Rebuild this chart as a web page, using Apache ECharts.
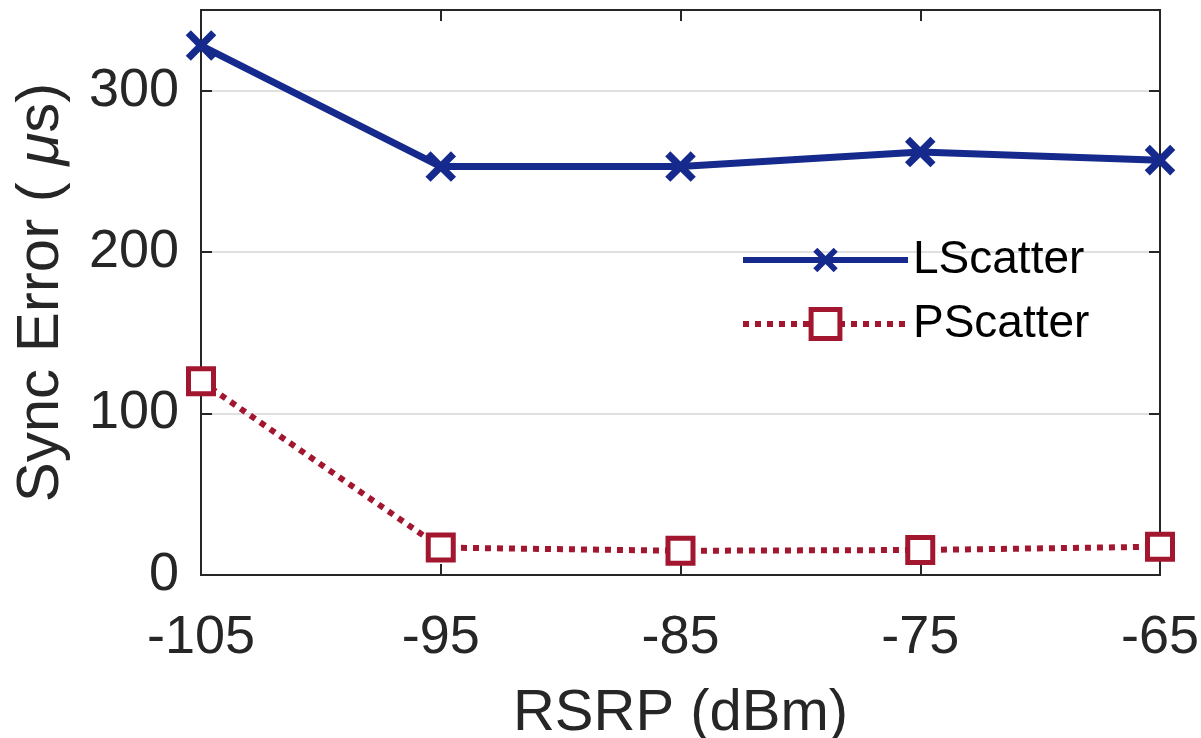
<!DOCTYPE html>
<html>
<head>
<meta charset="utf-8">
<script src="https://cdn.jsdelivr.net/npm/echarts@6/dist/echarts.min.js"></script>
<style>
  html, body { margin: 0; padding: 0; background: #fff; }
  #chart { width: 1201px; height: 738px; }
</style>
</head>
<body>
<div id="chart"></div>
<script>
// RSRP values (dBm) on the x axis
const rsrp = ['-105', '-95', '-85', '-75', '-65'];
// sync error in microseconds
const lscatter = [328, 253, 253, 262, 257];
const pscatter = [120, 17, 15, 15.5, 17.5];

const FONT = '"Liberation Sans", Arial, Helvetica, sans-serif';
const AXIS_COLOR = '#262626';
const BLUE = '#152a8c';
const RED = '#a3162f';
// X marker: a plus sign turned by 45 degrees
const CROSS = 'path://M4,0 H6 V4 H10 V6 H6 V10 H4 V6 H0 V4 H4 Z';

const myChart = echarts.init(document.getElementById('chart'));

// ticks point into the plot box, MATLAB style
function innerTick() {
  return { show: true, inside: true, length: 11, lineStyle: { color: AXIS_COLOR, width: 2 } };
}

const option = {
  animation: false,
  backgroundColor: '#fff',
  grid: {
    left: 201,
    right: 41,
    top: 10,
    bottom: 163,
    outerBoundsMode: 'none',
    containLabel: false,
    show: true,
    borderColor: AXIS_COLOR,
    borderWidth: 2,
    backgroundColor: 'transparent',
  },
  legend: {
    orient: 'vertical',
    left: 735,
    top: 232,
    itemWidth: 165,
    itemHeight: 36,
    itemGap: 18,
    textStyle: { fontFamily: FONT, fontSize: 46, color: '#000' },
    lineStyle: { width: 6 },
    itemStyle: { borderWidth: 5 },
    data: ['LScatter', 'PScatter'],
  },
  xAxis: [
    {
      type: 'category',
      data: rsrp,
      boundaryGap: false,
      name: 'RSRP (dBm)',
      nameLocation: 'middle',
      nameGap: 110,
      nameTextStyle: { fontFamily: FONT, fontSize: 58, color: AXIS_COLOR },
      axisLine: { onZero: false, lineStyle: { color: AXIS_COLOR, width: 2 } },
      axisTick: innerTick(),
      axisLabel: { fontFamily: FONT, fontSize: 54, color: AXIS_COLOR, margin: 36 },
      splitLine: { show: false },
    },
    {
      type: 'category',
      data: rsrp,
      boundaryGap: false,
      position: 'top',
      axisLine: { onZero: false, lineStyle: { color: AXIS_COLOR, width: 2 } },
      axisTick: innerTick(),
      axisLabel: { show: false },
      splitLine: { show: false },
    },
  ],
  yAxis: [
    {
      type: 'value',
      min: 0,
      max: 350,
      interval: 100,
      name: 'Sync Error ( {i|μ}s)',
      nameLocation: 'middle',
      nameGap: 130,
      nameTextStyle: {
        fontFamily: FONT,
        fontSize: 60,
        color: AXIS_COLOR,
        rich: { i: { fontFamily: FONT, fontSize: 60, fontStyle: 'italic', color: AXIS_COLOR } },
      },
      axisLine: { show: true, onZero: false, lineStyle: { color: AXIS_COLOR, width: 2 } },
      axisTick: innerTick(),
      axisLabel: {
        fontFamily: FONT,
        fontSize: 54,
        color: AXIS_COLOR,
        margin: 22,
        formatter: (v) => (v === 350 ? '' : String(v)),
      },
      splitLine: { show: true, lineStyle: { color: '#e0e0e0', width: 2 } },
    },
    {
      type: 'value',
      min: 0,
      max: 350,
      interval: 100,
      position: 'right',
      axisLine: { show: true, onZero: false, lineStyle: { color: AXIS_COLOR, width: 2 } },
      axisTick: innerTick(),
      axisLabel: { show: false },
      splitLine: { show: false },
    },
  ],
  series: [
    {
      name: 'LScatter',
      type: 'line',
      data: lscatter,
      symbol: CROSS,
      symbolSize: 36,
      symbolRotate: 45,
      lineStyle: { color: BLUE, width: 7 },
      itemStyle: { color: BLUE, borderWidth: 0 },
      z: 3,
    },
    {
      name: 'PScatter',
      type: 'line',
      data: pscatter,
      symbol: 'rect',
      symbolSize: 25,
      lineStyle: { color: RED, width: 6, type: [6, 6] },
      itemStyle: { color: '#fff', borderColor: RED, borderWidth: 5 },
      z: 3,
    },
  ],
};

myChart.setOption(option);
</script>
</body>
</html>
